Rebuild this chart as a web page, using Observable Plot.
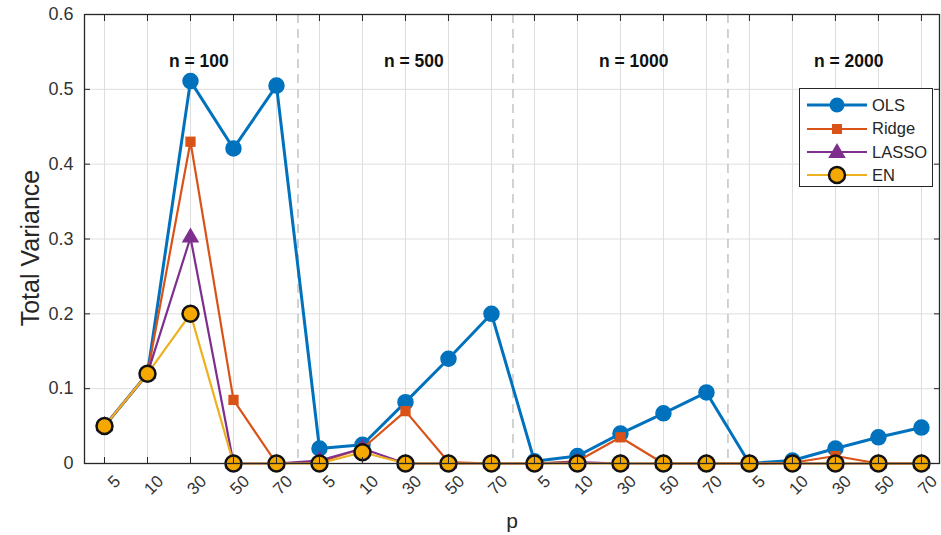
<!DOCTYPE html>
<html>
<head>
<meta charset="utf-8">
<script src="https://cdn.jsdelivr.net/npm/d3@7"></script>
<script src="https://cdn.jsdelivr.net/npm/@observablehq/plot@0.6"></script>
<style>
  html, body { margin: 0; padding: 0; background: #fff; }
  #wrap { position: relative; width: 941px; height: 535px; font-family: "Liberation Sans", Arial, sans-serif; color: #262626; }
  #ylab { position: absolute; left: 30px; top: 248px; transform: translate(-50%, -50%) rotate(-90deg); font-size: 25px; white-space: nowrap; }
  #xlab { position: absolute; left: 512px; top: 521px; transform: translate(-50%, -50%); font-size: 21px; }
  #legend { position: absolute; left: 799px; top: 88px; width: 134px; height: 99px; border: 1.3px solid #262626; background: #fff; box-sizing: border-box; }
  .li { position: absolute; left: 0; height: 24px; display: flex; align-items: center; font-size: 16.5px; }
  .li svg { margin-left: 5px; margin-right: 3px; }
</style>
</head>
<body>
<div id="wrap">
  <div id="chart"></div>
  <div id="ylab">Total Variance</div>
  <div id="xlab">p</div>
  <div id="legend"></div>
</div>
<script>
const pLabels = ["5","10","30","50","70","5","10","30","50","70","5","10","30","50","70","5","10","30","50","70"];
const groupLabels = ["n = 100", "n = 500", "n = 1000", "n = 2000"];
const groupStart = [1.5, 6.5, 11.5, 16.5];
const separators = [4.5, 9.5, 14.5];
const yTicks = [0, 0.1, 0.2, 0.3, 0.4, 0.5, 0.6];

const ols   = [0.05, 0.12, 0.511, 0.421, 0.505,  0.02, 0.025, 0.082, 0.14, 0.20,  0.003, 0.01, 0.04, 0.067, 0.095,  0.0, 0.004, 0.02, 0.035, 0.048];
const ridge = [0.05, 0.12, 0.43, 0.085, 0.0,     0.002, 0.02, 0.07, 0.002, 0.0,   0.0, 0.003, 0.035, 0.0, 0.0,        0.0, 0.001, 0.01, 0.0, 0.0];
const lasso = [0.05, 0.12, 0.302, 0.0, 0.0,      0.004, 0.02, 0.0, 0.0, 0.0,      0.0, 0.002, 0.0, 0.0, 0.0,          0.0, 0.0, 0.0, 0.0, 0.0];
const en    = [0.05, 0.12, 0.20, 0.0, 0.0,       0.0, 0.015, 0.0, 0.0, 0.0,       0.0, 0.0, 0.0, 0.0, 0.0,            0.0, 0.0, 0.0, 0.0, 0.0];

const seriesNames = ["OLS", "Ridge", "LASSO", "EN"];
const lineColors = ["#0072BD", "#D95319", "#7E2F8E", "#EDB120"];

const toRows = (vals) => vals.map((v, i) => ({ i, v }));
const rOls = toRows(ols), rRidge = toRows(ridge), rLasso = toRows(lasso), rEn = toRows(en);
const idx = d3.range(pLabels.length);

const font = "Liberation Sans, Arial, sans-serif";
const ink = "#262626";

const plot = Plot.plot({
  width: 941,
  height: 535,
  marginLeft: 84,
  marginRight: 2,
  marginTop: 14,
  marginBottom: 72,
  style: { fontFamily: font, color: ink, background: "#fff" },
  x: { domain: [-0.465, 19.42], axis: null },
  y: { domain: [0, 0.6], axis: null },
  marks: [
    Plot.gridX(idx, { stroke: "#dedede", strokeOpacity: 1, strokeWidth: 1 }),
    Plot.gridY(yTicks, { stroke: "#dedede", strokeOpacity: 1, strokeWidth: 1 }),
    Plot.ruleX(separators, { stroke: "#c4c4c4", strokeWidth: 1.5, strokeDasharray: "9,6" }),
    Plot.text(groupLabels, { x: (d, k) => groupStart[k], y: 0.538, text: d => d, textAnchor: "start", fontWeight: "bold", fontSize: 17.5, fill: "#111" }),
    // OLS
    Plot.line(rOls, { x: "i", y: "v", stroke: lineColors[0], strokeWidth: 3 }),
    Plot.dot(rOls, { x: "i", y: "v", r: 7.5, fill: lineColors[0], stroke: lineColors[0] }),
    // Ridge
    Plot.line(rRidge, { x: "i", y: "v", stroke: lineColors[1], strokeWidth: 2.2 }),
    Plot.dot(rRidge, { x: "i", y: "v", symbol: "square", r: 5.8, fill: lineColors[1] }),
    // LASSO
    Plot.line(rLasso, { x: "i", y: "v", stroke: lineColors[2], strokeWidth: 2.2 }),
    Plot.dot(rLasso, { x: "i", y: "v", symbol: "triangle", r: 6.5, fill: lineColors[2] }),
    // EN
    Plot.line(rEn, { x: "i", y: "v", stroke: lineColors[3], strokeWidth: 2.2 }),
    Plot.dot(rEn, { x: "i", y: "v", r: 8, fill: "#F5A800", stroke: "#111", strokeWidth: 2.5 }),
    Plot.frame({ stroke: ink, strokeWidth: 1.3 }),
    Plot.axisY(yTicks, { anchor: "left", tickSize: -6, tickPadding: 17, fontSize: 18, tickFormat: d => String(d), label: null, stroke: ink, fill: "#333" }),
    Plot.axisY(yTicks, { anchor: "right", tickSize: -6, tickFormat: () => "", label: null, stroke: ink }),
    Plot.axisX(idx, { anchor: "bottom", tickSize: -6, tickFormat: () => "", label: null, stroke: ink }),
    Plot.axisX(idx, { anchor: "bottom", tickSize: 0, tickPadding: 15, dx: 13, tickRotate: -45, fontSize: 17, tickFormat: i => pLabels[i], label: null, fill: "#333" }),
    Plot.axisX(idx, { anchor: "top", tickSize: -6, tickFormat: () => "", label: null, stroke: ink })
  ]
});
document.getElementById("chart").appendChild(plot);

// Legend
const legend = document.getElementById("legend");
const tops = [4, 27.5, 51, 74];
seriesNames.forEach((name, k) => {
  const item = document.createElement("div");
  item.className = "li";
  item.style.top = tops[k] + "px";
  const svg = d3.create("svg").attr("width", 64).attr("height", 24);
  svg.append("line").attr("x1", 2).attr("x2", 62).attr("y1", 12).attr("y2", 12)
    .attr("stroke", lineColors[k]).attr("stroke-width", k === 0 ? 3 : 2.2);
  if (k === 0) svg.append("circle").attr("cx", 32).attr("cy", 12).attr("r", 7.5).attr("fill", lineColors[0]);
  if (k === 1) svg.append("rect").attr("x", 27).attr("y", 7).attr("width", 10).attr("height", 10).attr("fill", lineColors[1]);
  if (k === 2) svg.append("path").attr("d", d3.symbol(d3.symbolTriangle, Math.PI * 6.5 * 6.5)()).attr("transform", "translate(32,13)").attr("fill", lineColors[2]);
  if (k === 3) svg.append("circle").attr("cx", 32).attr("cy", 12).attr("r", 8).attr("fill", "#F5A800").attr("stroke", "#111").attr("stroke-width", 2.5);
  item.appendChild(svg.node());
  const t = document.createElement("span");
  t.textContent = name;
  item.appendChild(t);
  legend.appendChild(item);
});
</script>
</body>
</html>
